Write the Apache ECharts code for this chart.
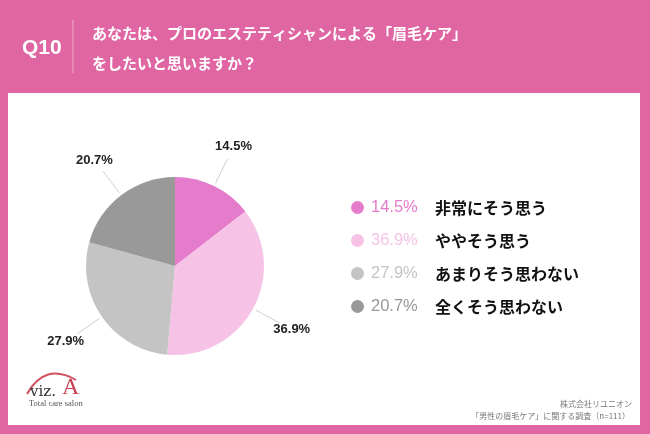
<!DOCTYPE html>
<html><head><meta charset="utf-8">
<script src="https://cdn.jsdelivr.net/npm/echarts@6/dist/echarts.min.js"></script>
<style>html,body{margin:0;padding:0;background:#E066A3}#c{width:650px;height:434px}</style>
</head><body><div id="c"></div>
<script>
const categories = ['非常にそう思う','ややそう思う','あまりそう思わない','全くそう思わない'];
const values = [14.5, 36.9, 27.9, 20.7];
const colors = ['#E57BCB','#F6C3E6','#C4C4C4','#999999'];
const questionNo = 'Q10';
const questionText = ['あなたは、プロのエステティシャンによる「眉毛ケア」','をしたいと思いますか？'];
const sourceText = ['株式会社リユニオン','「男性の眉毛ケア」に関する調査（n=111）'];

const FONT = '"Noto Sans CJK JP", "Noto Sans", sans-serif';
const CX = 175, CY = 266, R = 89;
const chart = echarts.init(document.getElementById('c'), null, {renderer:'canvas'});
const rich = {};
colors.forEach((c,i)=>{ rich['p'+i] = {color:c, fontSize:16.5, fontFamily:'"Liberation Sans", Arial, sans-serif', fontWeight:'normal', width:64}; });
rich.n = {color:'#111', fontSize:16, fontWeight:'bold', fontFamily:FONT};

const total = values.reduce((a,b)=>a+b,0);
function midAngle(i){ let s=0; for(let k=0;k<i;k++) s+=values[k]; return (s + values[i]/2)/total*2*Math.PI; }
function polar(r,a){ return [CX + r*Math.sin(a), CY - r*Math.cos(a)]; }

chart.setOption({
  backgroundColor:'#E066A3',
  color: colors,
  graphic:[
    {type:'rect', shape:{x:8,y:93,width:632,height:332}, style:{fill:'#fff'}, z:-10},
    {type:'text', x:22, y:48, style:{text:questionNo, fill:'#fff', font:'bold 21px "Liberation Sans", Arial, sans-serif', verticalAlign:'middle'}},
    {type:'line', shape:{x1:73,y1:20,x2:73,y2:73}, style:{stroke:'rgba(255,255,255,0.45)', lineWidth:1}},
    {type:'text', x:92, y:33, style:{text:questionText[0], fill:'#fff', font:'bold 15px '+FONT, verticalAlign:'middle'}},
    {type:'text', x:92, y:63, style:{text:questionText[1], fill:'#fff', font:'bold 15px '+FONT, verticalAlign:'middle'}},
    {type:'text', x:632, y:404, style:{text:sourceText[0], fill:'#777', font:'8px '+FONT, align:'right', verticalAlign:'middle'}},
    {type:'text', x:630, y:416, style:{text:sourceText[1], fill:'#777', font:'8px '+FONT, align:'right', verticalAlign:'middle'}},
    {type:'bezierCurve', shape:{x1:27,y1:394,cpx1:45,cpy1:362,x2:76,y2:380}, style:{stroke:'#D0505F', lineWidth:2, fill:null}},
    {type:'text', x:30, y:392, style:{text:'viz.', fill:'#333', font:'15px "DejaVu Serif", serif', verticalAlign:'middle'}},
    {type:'text', x:62, y:388, style:{text:'A', fill:'#C8404F', font:'24px "Liberation Serif", serif', verticalAlign:'middle'}},
    {type:'text', x:29, y:404, style:{text:'Total care salon', fill:'#555', font:'8.5px "Liberation Serif", serif', verticalAlign:'middle'}}
  ],
  legend:{
    orient:'vertical', left:346, top:194, itemGap:16,
    icon:'circle', itemWidth:13, itemHeight:13,
    data: categories,
    formatter: name => { const i = categories.indexOf(name); return '{p'+i+'|'+values[i].toFixed(1)+'%}{n|'+name+'}'; },
    textStyle:{rich: rich, padding:[0,0,0,2]}
  },
  series:[{
    type:'pie', center:[CX,CY], radius:[0,R], startAngle:90, clockwise:true,
    data: categories.map((c,i)=>({name:c, value:values[i]})),
    label:{show:true, position:'outside', formatter: p => values[p.dataIndex].toFixed(1)+'%', color:'#222', fontSize:13, fontWeight:'bold', fontFamily:'"Liberation Sans", Arial, sans-serif'},
    labelLine:{show:true, length:20, length2:0, lineStyle:{color:'#cfcfcf', width:1}},
    labelLayout: function(p){
      const a = midAngle(p.dataIndex);
      const c = polar(133, a);
      return {x:c[0], y:c[1], align:'center', verticalAlign:'middle', labelLinePoints:[polar(R+3,a), polar(119,a), polar(119,a)]};
    },
    itemStyle:{borderWidth:0},
    emphasis:{disabled:true}, animation:false
  }]
});
</script></body></html>
